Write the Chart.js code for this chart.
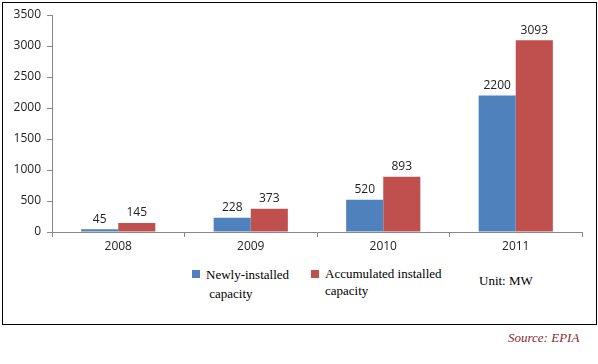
<!DOCTYPE html>
<html>
<head>
<meta charset="utf-8">
<script src="https://cdn.jsdelivr.net/npm/chart.js@4"></script>
<style>
  body { margin: 0; background: #fff; width: 598px; height: 364px; position: relative; overflow: hidden; }
  #box { position: absolute; left: 2px; top: 2px; width: 593px; height: 321px; border: 1px solid #000; }
  #wrap { position: absolute; left: 0; top: 0; width: 598px; height: 256px; }
  .leg { position: absolute; font-family: "Liberation Serif", serif; font-size: 13px; color: #000; line-height: 19px; }
  .sq { position: absolute; width: 8px; height: 8px; }
  #src { position: absolute; left: 508px; top: 330px; font-family: "Liberation Serif", serif; font-style: italic; font-size: 13px; color: #8b2a2a; }
</style>
</head>
<body>
<div id="box"></div>
<div id="wrap"><canvas id="graph"></canvas></div>

<div class="sq" style="left:192px;top:270px;background:#4f81bd"></div>
<div class="leg" style="left:206px;top:265px">Newly-installed<br>&nbsp;capacity</div>
<div class="sq" style="left:311px;top:270px;background:#c0504d"></div>
<div class="leg" style="left:325px;top:265px;line-height:17px">Accumulated installed<br>capacity</div>
<div class="leg" style="left:479px;top:271px">Unit: MW</div>
<div id="src">Source: EPIA</div>

<script>
// données (MW)
const years = ["2008", "2009", "2010", "2011"];
const newlyInstalled = [45, 228, 520, 2200];
const accumulated = [145, 373, 893, 3093];

// étiquettes au-dessus des barres
const valueLabels = {
  id: "valueLabels",
  afterDatasetsDraw(chart) {
    const ctx = chart.ctx;
    ctx.save();
    ctx.font = "12px 'Open Sans', sans-serif";
    ctx.fillStyle = "#222";
    ctx.textAlign = "center";
    ctx.textBaseline = "bottom";
    chart.data.datasets.forEach((ds, i) => {
      chart.getDatasetMeta(i).data.forEach((bar, j) => {
        ctx.fillText(ds.data[j], bar.x, bar.y - 4);
      });
    });
    ctx.restore();
  },
};

let ctx = document.querySelector("#graph");
let graph = new Chart(ctx, {
  type: "bar",
  data: {
    labels: years,
    datasets: [
      { label: "Newly-installed capacity", data: newlyInstalled, backgroundColor: "#4f81bd" },
      { label: "Accumulated installed capacity", data: accumulated, backgroundColor: "#c0504d" },
    ],
  },
  options: {
    responsive: true,
    maintainAspectRatio: false,
    animation: false,
    layout: { padding: { left: 3, right: 16, top: 15, bottom: 0 } },
    datasets: { bar: { categoryPercentage: 0.56, barPercentage: 1 } },
    plugins: { legend: { display: false }, tooltip: { enabled: false } },
    scales: {
      x: {
        grid: { display: true, drawOnChartArea: false, offset: true, tickLength: 5, color: "#888" },
        border: { color: "#888" },
        ticks: { color: "#222", font: { family: "Open Sans", size: 12 }, padding: 2 },
        afterFit: (s) => { s.height = 24; },
      },
      y: {
        min: 0,
        max: 3500,
        grid: { display: true, drawOnChartArea: false, tickLength: 5, color: "#888" },
        border: { color: "#888" },
        ticks: { stepSize: 500, color: "#222", font: { family: "Open Sans", size: 12 }, padding: 6, callback: (v) => String(v) },
        afterFit: (s) => { s.width = 49; },
      },
    },
  },
  plugins: [valueLabels],
});
</script>
</body>
</html>
